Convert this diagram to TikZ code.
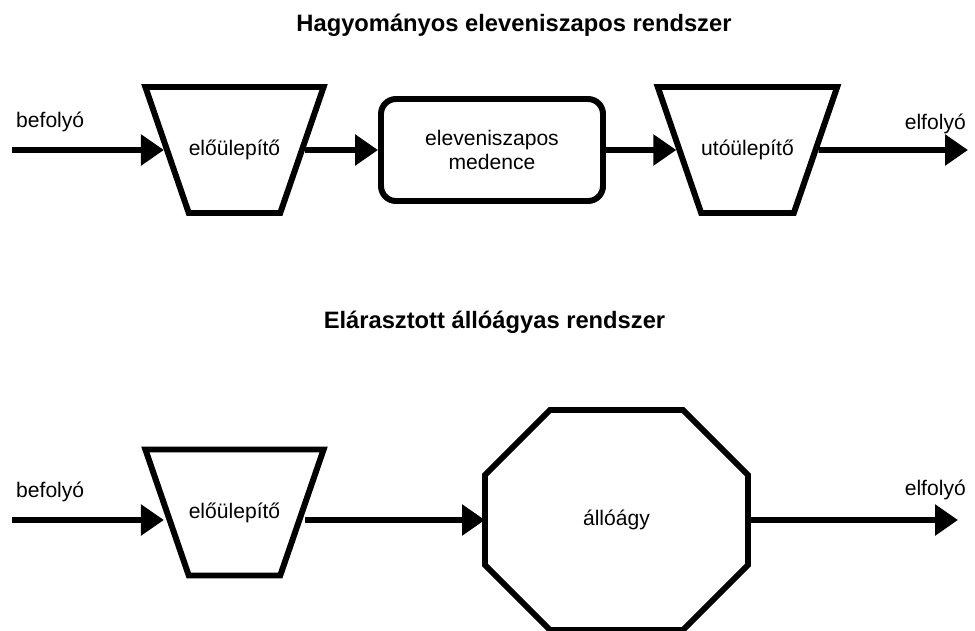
\documentclass[tikz,border=0pt]{standalone}
\usepackage{fontspec}
\setmainfont{Liberation Sans}
\usetikzlibrary{arrows.meta, positioning, shapes.geometric}

\tikzset{
  unit/.style={draw, line width=3.4pt, align=center, font=\fontsize{12}{13.5}\selectfont, inner sep=0pt},
  settler/.style={unit, trapezium, shape border rotate=180, trapezium stretches body=true, trapezium angle=71,
    text height=0.35cm, text depth=0.12cm, inner ysep=1.025cm, minimum width=3.5cm},
  basin/.style={unit, rectangle, rounded corners=0.3cm, minimum width=4.44cm, minimum height=2.04cm},
  bedbox/.style={rectangle, align=center, font=\fontsize{12}{13.5}\selectfont, inner sep=0pt, outer sep=0pt, minimum width=5.26cm, minimum height=4.4cm},
  wall/.style={line width=3.4pt, line join=miter},
  flow/.style={line width=3.4pt, -{Triangle[length=0.46cm, width=0.6cm]}},
  title/.style={font=\fontsize{13.5}{16}\selectfont\bfseries},
  lbl/.style={font=\fontsize{12}{14}\selectfont},
}
\newcommand{\cut}{1.3cm}

\begin{document}
\begin{tikzpicture}
  \useasboundingbox (0,0) rectangle (19.5,-12.6);

  % conventional activated sludge line
  \node[title] (title1) at (10.28,-0.5) {Hagyományos eleveniszapos rendszer};
  \coordinate (in1) at (0.24,-3.0);
  \node[settler] (pre1) at (4.69,-3.0) {előülepítő};
  \node[basin] (tank) at (9.84,-3.0) {eleveniszapos\\medence};
  \node[settler] (post1) at (14.95,-3.0) {utóülepítő};
  \coordinate (out1) at (19.36,-3.0);
  \node[lbl, anchor=base west] (bef1) at (0.2,-2.55) {befolyó};
  \node[lbl, anchor=base east] (elf1) at (19.44,-2.58) {elfolyó};

  \draw[flow] (in1) -- (pre1.west);
  \draw[flow] (pre1.east) -- (tank.west);
  \draw[flow] (tank.east) -- (post1.west);
  \draw[flow] (post1.east) -- (out1);

  % flooded fixed bed line
  \node[title] (title2) at (9.89,-6.45) {Elárasztott állóágyas rendszer};
  \coordinate (in2) at (0.24,-10.4);
  \node[settler] (pre2) at (4.69,-10.25) {előülepítő};
  \node[bedbox] (bed) at (12.33,-10.4) {állóágy};
  \coordinate (out2) at (19.16,-10.4);
  \node[lbl, anchor=base west] (bef2) at (0.2,-9.94) {befolyó};
  \node[lbl, anchor=base east] (elf2) at (19.44,-9.9) {elfolyó};

  % octagonal outline of the bed
  \draw[wall] ([xshift=\cut]bed.north west) -- ([xshift=-\cut]bed.north east)
    -- ([yshift=-\cut]bed.north east) -- ([yshift=\cut]bed.south east)
    -- ([xshift=-\cut]bed.south east) -- ([xshift=\cut]bed.south west)
    -- ([yshift=\cut]bed.south west) -- ([yshift=-\cut]bed.north west) -- cycle;

  \draw[flow] (in2) -- (in2 -| pre2.west);
  \draw[flow] (pre2.east |- in2) -- (bed.west);
  \draw[flow] (bed.east) -- (out2);
\end{tikzpicture}
\end{document}
